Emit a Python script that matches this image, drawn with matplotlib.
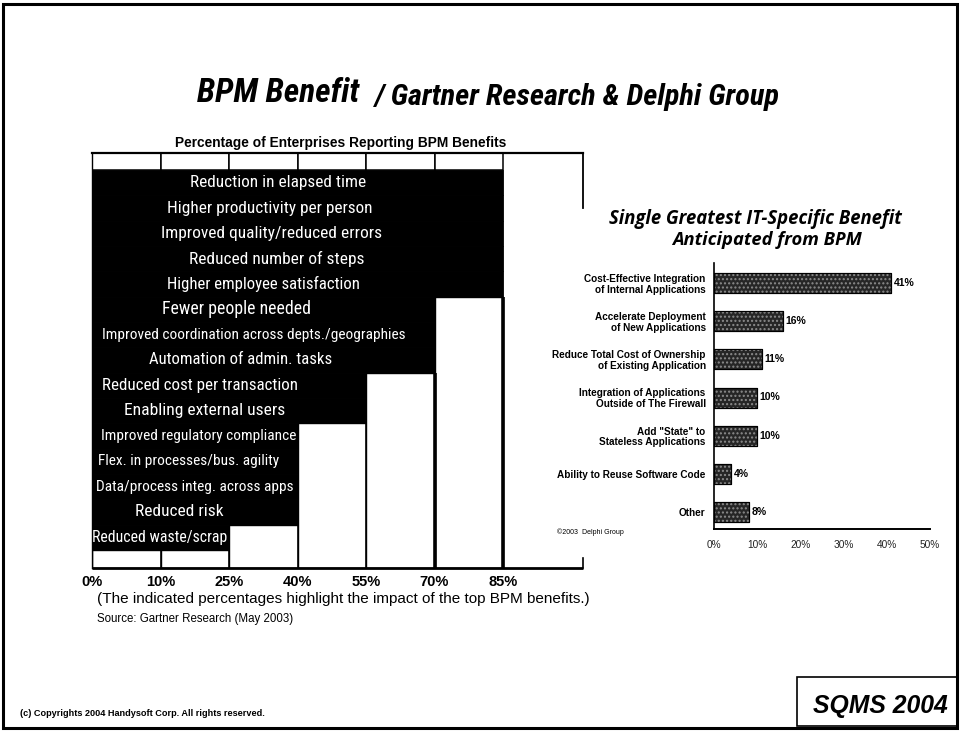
import matplotlib
matplotlib.use("Agg")
import matplotlib.pyplot as plt
from matplotlib import font_manager as fm
from matplotlib.patches import Rectangle

# ---------------- data ----------------
left_title = "Percentage of Enterprises Reporting BPM Benefits"
tick_values = [0, 10, 25, 40, 55, 70, 85]
tick_labels = ["0%", "10%", "25%", "40%", "55%", "70%", "85%"]
benefits = [
    "Reduction in elapsed time",
    "Higher productivity per person",
    "Improved quality/reduced errors",
    "Reduced number of steps",
    "Higher employee satisfaction",
    "Fewer people needed",
    "Improved coordination across depts./geographies",
    "Automation of admin. tasks",
    "Reduced cost per transaction",
    "Enabling external users",
    "Improved regulatory compliance",
    "Flex. in processes/bus. agility",
    "Data/process integ. across apps",
    "Reduced risk",
    "Reduced waste/scrap",
]
benefit_reach = [85, 85, 85, 85, 85, 70, 70, 70, 55, 55, 40, 40, 40, 40, 25]

it_title = ["Single Greatest IT-Specific Benefit", "Anticipated from BPM"]
it_categories = [
    "Cost-Effective Integration\nof Internal Applications",
    "Accelerate Deployment\nof New Applications",
    "Reduce Total Cost of Ownership\nof Existing Application",
    "Integration of Applications\nOutside of The Firewall",
    "Add \"State\" to\nStateless Applications",
    "Ability to Reuse Software Code",
    "Other",
]
it_values = [41, 16, 11, 10, 10, 4, 8]
it_ticks = [0, 10, 20, 30, 40, 50]

# ---------------- styles ----------------
label_width_px = [175, 204, 220, 175, 193, 148, 302, 183, 196, 160, 194, 181, 196, 88, 134]
label_center_px = [278, 270, 272, 277, 263, 236, 254, 241, 200, 205, 199, 189, 195, 179, 160]

W, H = 960, 732
names = {f.name for f in fm.fontManager.ttflist}
SANS = "Liberation Sans"
HUMAN = "Open Sans" if "Open Sans" in names else SANS


def is_bold(w):
    try:
        return int(w) >= 600
    except Exception:
        return str(w).lower() in ("bold", "heavy", "black", "extra bold", "semibold", "demibold")


def find_condensed(bold, italic):
    prefs = ["liberation sans narrow", "roboto condensed", "open sans condensed",
             "noto sans condensed", "dejavu sans condensed", "dejavu sans"]
    cands = []
    for f in fm.fontManager.ttflist:
        nm = f.name.lower()
        fn = f.fname.lower()
        cond = ("narrow" in nm or "condensed" in nm or "condensed" in fn or "narrow" in fn
                or str(f.stretch).endswith("condensed"))
        if not cond:
            continue
        if is_bold(f.weight) != bold:
            continue
        if (f.style in ("italic", "oblique")) != italic:
            continue
        key = nm + " " + ("condensed" if "condensed" in fn else "")
        rank = len(prefs)
        for i, p in enumerate(prefs):
            if p in key:
                rank = i
                break
        cands.append((rank, f.fname))
    if cands:
        cands.sort()
        return fm.FontProperties(fname=cands[0][1])
    return None


cond_bi = find_condensed(True, True)
cond_r = find_condensed(False, False)

fig = plt.figure(figsize=(9.6, 7.32), dpi=100)
fig.patch.set_facecolor("white")
renderer = fig.canvas.get_renderer()


def fx(px):
    return px / W


def fy(py):
    return 1 - py / H


def fit(t, target_px):
    w = t.get_window_extent(renderer).width
    if w > 0:
        t.set_fontsize(t.get_fontsize() * target_px / w)
    return t


def fit_both(t, target_w, target_h):
    # compromise between width match and height match
    bb = t.get_window_extent(renderer)
    s = t.get_fontsize()
    sw = s * target_w / bb.width
    sh = s * target_h / bb.height
    t.set_fontsize((sw * sh) ** 0.5)
    return t


def headline(x, y, s, size):
    if cond_bi is not None:
        fp = cond_bi.copy()
        fp.set_size(size)
        return fig.text(fx(x), fy(y), s, fontproperties=fp, ha="left", va="center")
    return fig.text(fx(x), fy(y), s, family=SANS, weight="bold", style="italic",
                    fontsize=size, ha="left", va="center")


# slide frame
fig.add_artist(Rectangle((fx(3), fy(728)), fx(954), 724 / H, transform=fig.transFigure,
                         fill=False, ec="black", lw=2.2))

# main title
fit(headline(197, 93, "BPM Benefit", 28), 162)
fit_both(headline(375, 97, "/ Gartner Research & Delphi Group", 16), 487, 25)

# ---------------- left chart ----------------
col_px = (503 - 92) / 6.0
x_right = (583 - 92) / col_px
row_px = (550 - 170) / 15.0
n = len(benefits)
y_bot = -0.5 - (568 - 550) / row_px
y_top = n - 0.5 + (170 - 153) / row_px

axL = fig.add_axes([fx(92), fy(568), fx(583 - 92), (568 - 153) / H])
axL.set_xlim(0, x_right)
axL.set_ylim(y_bot, y_top)
for s in axL.spines.values():
    s.set_visible(False)

col_idx = [tick_values.index(v) for v in benefit_reach]
ys = [n - 1 - k for k in range(n)]

axL.barh(ys, col_idx, height=1.0, left=0, color="black", edgecolor="black", lw=0.6, zorder=2)

# white columns below the black staircase
for j in range(len(tick_values) - 1):
    tops = [y - 0.5 for y, c in zip(ys, col_idx) if c > j]
    top = min(tops) if tops else n - 0.5
    axL.add_patch(Rectangle((j, y_bot), 1, top - y_bot, fc="white", ec="black", lw=1.0, zorder=1))
    lw = 2.6 if j + 1 >= 5 else 1.1
    axL.plot([j + 1, j + 1], [y_bot, top], color="black", lw=lw, zorder=3, solid_capstyle="butt")

# header row boxes
for j in range(len(tick_values) - 1):
    axL.add_patch(Rectangle((j, n - 0.5), 1, y_top - (n - 0.5), fc="white", ec="black", lw=1.1, zorder=3))
axL.plot([0, x_right], [y_top, y_top], color="black", lw=1.6, zorder=4, clip_on=False)
axL.plot([x_right, x_right], [y_top, n - 0.5 - (208 - 170) / row_px], color="black", lw=1.3,
         zorder=4, clip_on=False)
axL.plot([0, 0], [y_bot, y_top], color="black", lw=1.0, zorder=4, clip_on=False)

# axis line
axL.plot([0, x_right], [y_bot, y_bot], color="black", lw=2.0, zorder=5, clip_on=False,
         solid_capstyle="butt")
axL.plot([x_right, x_right], [y_bot, y_bot + 10 / row_px], color="black", lw=1.2, zorder=5,
         clip_on=False)

axL.set_xticks(range(len(tick_values)))
axL.set_xticklabels(tick_labels, family=SANS, weight="bold", fontsize=10.5)
axL.tick_params(axis="x", length=0, pad=5)
axL.set_yticks([])

for y, lab, wpx, cpx in zip(ys, benefits, label_width_px, label_center_px):
    if cond_r is not None:
        fp = cond_r.copy()
        fp.set_size(11)
        t = axL.text((cpx - 92) / col_px, y, lab, color="white", fontproperties=fp,
                     ha="center", va="center", zorder=6)
    else:
        t = axL.text((cpx - 92) / col_px, y, lab, color="white", family=SANS,
                     fontsize=11, ha="center", va="center", zorder=6)
    fit(t, wpx)

t = fig.text(fx(341), fy(143), left_title, family=SANS, weight="bold", fontsize=8,
             ha="center", va="center")
fit(t, 332)
t = fig.text(fx(97), fy(599), "(The indicated percentages highlight the impact of the top BPM benefits.)",
             family=SANS, fontsize=11, ha="left", va="center")
fit(t, 491)
t = fig.text(fx(97), fy(619), "Source: Gartner Research (May 2003)", family=SANS, fontsize=8.5,
             ha="left", va="center")
fit(t, 195)

# ---------------- right chart ----------------
m = len(it_values)
rpx = (512 - 283) / (m - 1)
axR = fig.add_axes([fx(714), fy(529), fx(930 - 714), (529 - 263) / H])
axR.set_xlim(0, 50)
axR.set_ylim(m - 1 + (529 - 512) / rpx, -(283 - 263) / rpx)
ypos = list(range(m))
axR.barh(ypos, it_values, height=20 / rpx, color="#262626", edgecolor="black", lw=0.8, zorder=2)
axR.barh(ypos, it_values, height=20 / rpx, fill=False, hatch="....", edgecolor="#8c8c8c",
         lw=0, zorder=3)
axR.barh(ypos, it_values, height=20 / rpx, fill=False, edgecolor="black", lw=0.8, zorder=4)
for y, v in zip(ypos, it_values):
    axR.text(v + 0.6, y, f"{v}%", va="center", ha="left", fontsize=7.5, weight="bold",
             family=SANS, zorder=5)
for side in ["top", "right"]:
    axR.spines[side].set_visible(False)
axR.spines["left"].set_linewidth(1.2)
axR.spines["bottom"].set_linewidth(1.4)
axR.set_xticks(it_ticks)
axR.set_xticklabels([f"{v}%" for v in it_ticks], family=SANS, fontsize=7.3, color="#222222")
axR.set_yticks(ypos)
axR.set_yticklabels(it_categories, family=SANS, fontsize=7.2, weight="bold", linespacing=1.1)
axR.tick_params(axis="both", length=0)
axR.tick_params(axis="x", pad=8)
axR.tick_params(axis="y", pad=6)

t = fig.text(fx(755), fy(219), it_title[0], family=[HUMAN, SANS], weight="bold", style="italic",
             fontsize=11, ha="center", va="center")
fit(t, 294)
t = fig.text(fx(767), fy(240), it_title[1], family=[HUMAN, SANS], weight="bold", style="italic",
             fontsize=11, ha="center", va="center")
fit(t, 190)

fig.text(fx(557), fy(532), "\u00a92003  Delphi Group", family=SANS, fontsize=5, ha="left",
         va="center")

# ---------------- footer ----------------
fig.add_artist(Rectangle((fx(797), fy(726)), fx(957 - 797), (726 - 677) / H,
                         transform=fig.transFigure, fill=False, ec="black", lw=1.2))
t = fig.text(fx(880), fy(706), "SQMS 2004", family=SANS, weight="bold", style="italic",
             fontsize=14, ha="center", va="center")
fit(t, 135)
t = fig.text(fx(20), fy(714), "(c) Copyrights 2004 Handysoft Corp. All rights reserved.",
             family=SANS, weight="bold", fontsize=6, ha="left", va="center")
fit(t, 250)

fig.savefig("out.png", dpi=100)
